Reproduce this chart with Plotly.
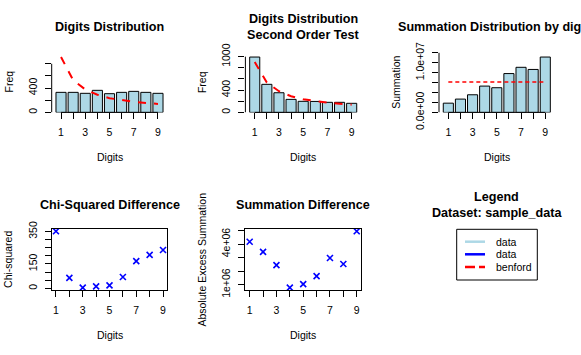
import plotly.graph_objects as go

W, H = 581, 355

# ---------------- data ----------------
digits = [1, 2, 3, 4, 5, 6, 7, 8, 9]
digit_ticktext = ["1", "", "3", "", "5", "", "7", "", "9"]

freq_data = [330, 330, 314, 363, 308, 330, 346, 330, 314]
freq_benford = [911, 530, 378, 290, 234, 200, 175, 155, 140]

sot_data = [994, 504, 353, 234, 199, 197, 181, 181, 163]
sot_benford = [905, 535, 380, 290, 235, 200, 175, 155, 138]

sum_data = [1.86e6, 2.68e6, 3.55e6, 5.30e6, 4.97e6, 7.82e6, 9.08e6, 8.65e6, 11.15e6]
sum_expected = 6.12e6

chi_squared = [352, 64, 4, 12, 18, 70, 168, 206, 236]
abs_excess = [4.17e6, 3.43e6, 2.45e6, 0.78e6, 1.04e6, 1.63e6, 2.97e6, 2.53e6, 4.95e6]

freq_yticks = [0, 200, 400, 600, 800]
freq_yticktext = ["0", "", "400", "", ""]
sot_yticks = [0, 200, 400, 600, 800, 1000]
sot_yticktext = ["0", "", "400", "", "", "1000"]
sum_yticks = [0, 2e6, 4e6, 6e6, 8e6, 1e7, 1.2e7]
sum_yticktext = ["0.0e+00", "", "", "", "", "1.0e+07", ""]
chi_yticks = [0, 50, 100, 150, 200, 250, 300, 350]
chi_yticktext = ["0", "", "", "150", "", "", "", "350"]
exc_yticks = [1e6, 2e6, 3e6, 4e6, 5e6]
exc_yticktext = ["1e+06", "", "", "4e+06", ""]

titles = [["Digits Distribution"],
          ["Digits Distribution", "Second Order Test"],
          ["Summation Distribution by digits"],
          ["Chi-Squared Difference"],
          ["Summation Difference"],
          ["Legend", "Dataset: sample_data"]]
xlabels = ["Digits", "Digits", "Digits", "Digits", "Digits"]
ylabels = ["Freq", "Freq", "Summation", "Chi-squared", "Absolute Excess Summation"]

legend_labels = ["data", "data", "benford"]
legend_colors = ["lightblue", "blue", "red"]
legend_dash = ["solid", "solid", "dash"]

# ---------------- layout geometry (pixels) ----------------
FONT = "Liberation Sans, Arial, sans-serif"
col_px = [(51.7, 167.3), (245.4, 361.0), (439.0, 554.6)]
row_px = [(51.5, 112.4), (229.0, 289.9)]
cells = [(0, 0), (0, 1), (0, 2), (1, 0), (1, 1), (1, 2)]


def px_x(x):
    return x / W


def px_y(y):
    return 1 - y / H


fig = go.Figure()

BAR_FRAC = 1 / 1.2  # R barplot: width 1, space 0.2


def bar_xrange():
    lo, hi = digits[0] - BAR_FRAC / 2, digits[-1] + BAR_FRAC / 2
    pad = 0.04 * (hi - lo)
    return [lo - pad, hi + pad]


def pt_range(vals):
    lo, hi = min(vals), max(vals)
    pad = 0.04 * (hi - lo)
    return [lo - pad, hi + pad]


panels = [
    dict(kind="bar", y=freq_data, ref=freq_benford, lw=2, dash="8px,8px",
         yt=freq_yticks, ytt=freq_yticktext),
    dict(kind="bar", y=sot_data, ref=sot_benford, lw=2, dash="8px,8px",
         yt=sot_yticks, ytt=sot_yticktext),
    dict(kind="bar", y=sum_data, ref=[sum_expected] * len(digits), lw=1.6, dash="4px,3px",
         yt=sum_yticks, ytt=sum_yticktext),
    dict(kind="pts", y=chi_squared, yt=chi_yticks, ytt=chi_yticktext),
    dict(kind="pts", y=abs_excess, yt=exc_yticks, ytt=exc_yticktext),
]

shapes = []
annotations = []
axis_font = dict(family=FONT, size=10.5, color="black")

for i, p in enumerate(panels):
    n = "" if i == 0 else str(i + 1)
    r, c = cells[i]
    x0, x1 = col_px[c]
    y0, y1 = row_px[r]
    xa = dict(domain=[px_x(x0), px_x(x1)], anchor="y" + n, automargin=False,
              tickmode="array", tickvals=digits, ticktext=digit_ticktext,
              ticks="outside", ticklen=6, tickwidth=1, tickcolor="black",
              tickfont=axis_font, showgrid=False, zeroline=False,
              ticklabelstandoff=4)
    ya = dict(domain=[px_y(y1), px_y(y0)], anchor="x" + n, automargin=False,
              tickmode="array", tickvals=p["yt"], ticktext=p["ytt"],
              ticks="outside", ticklen=6, tickwidth=1, tickcolor="black",
              tickfont=axis_font, tickangle=-90, showgrid=False, zeroline=False,
              ticklabelstandoff=4)
    if p["kind"] == "bar":
        top = 1.1 * max(max(p["y"]), max(p["ref"]))
        xa.update(range=bar_xrange(), showline=False)
        ya.update(range=[0, top], showline=False)
        fig.add_trace(go.Bar(x=digits, y=p["y"], xaxis="x" + n, yaxis="y" + n,
                             marker=dict(color="lightblue", line=dict(color="black", width=1)),
                             showlegend=False))
        fig.add_trace(go.Scatter(x=digits, y=p["ref"], xaxis="x" + n, yaxis="y" + n,
                                 mode="lines", line=dict(color="red", width=p["lw"], dash=p["dash"]),
                                 showlegend=False))
        shapes.append(dict(type="line", xref="x" + n + " domain", yref="y" + n,
                           x0=0, x1=0, y0=p["yt"][0], y1=p["yt"][-1],
                           line=dict(color="black", width=1)))
        shapes.append(dict(type="line", xref="x" + n, yref="y" + n + " domain",
                           x0=digits[0], x1=digits[-1], y0=0, y1=0,
                           line=dict(color="black", width=1)))
    else:
        xa.update(range=pt_range(digits), showline=True, mirror=True, linecolor="black", linewidth=1)
        ya.update(range=pt_range(p["y"]), showline=True, mirror=True, linecolor="black", linewidth=1)
        fig.add_trace(go.Scatter(x=digits, y=p["y"], xaxis="x" + n, yaxis="y" + n,
                                 mode="markers",
                                 marker=dict(symbol="x-thin", size=6, color="blue",
                                             line=dict(color="blue", width=1.6)),
                                 showlegend=False))
    fig.update_layout(**{"xaxis" + n: xa, "yaxis" + n: ya})

    cx = (x0 + x1) / 2
    cy = (y0 + y1) / 2
    annotations.append(dict(text=xlabels[i], x=px_x(cx), y=px_y(157 + 177.5 * r),
                            xref="paper", yref="paper", showarrow=False,
                            xanchor="center", yanchor="middle",
                            font=dict(family=FONT, size=10.5, color="black")))
    annotations.append(dict(text=ylabels[i], x=px_x(8.5 + 193.67 * c), y=px_y(cy),
                            xref="paper", yref="paper", showarrow=False, textangle=-90,
                            xanchor="center", yanchor="middle",
                            font=dict(family=FONT, size=10.5, color="black")))

for i, lines in enumerate(titles):
    r, c = cells[i]
    x0, x1 = col_px[c]
    cx = (x0 + x1) / 2
    ys = [27.3] if len(lines) == 1 else [19.3, 35.0]
    for t, yy in zip(lines, ys):
        annotations.append(dict(text="<b>" + t + "</b>", x=px_x(cx), y=px_y(yy + 177.5 * r),
                                xref="paper", yref="paper", showarrow=False,
                                xanchor="center", yanchor="middle",
                                font=dict(family=FONT, size=12.6, color="black")))

shapes.append(dict(type="rect", xref="paper", yref="paper",
                   x0=px_x(456.7), x1=px_x(537.3), y0=px_y(280.0), y1=px_y(229.3),
                   line=dict(color="black", width=1), fillcolor="white"))
leg_rows = [241.7, 254.3, 267.0]
for lab, col, dsh, yy in zip(legend_labels, legend_colors, legend_dash, leg_rows):
    shapes.append(dict(type="line", xref="paper", yref="paper",
                       x0=px_x(465), x1=px_x(485), y0=px_y(yy), y1=px_y(yy),
                       line=dict(color=col, width=2.5, dash=("10px,4px" if dsh == "dash" else "solid"))))
    annotations.append(dict(text=lab, x=px_x(493.5), y=px_y(yy), xref="paper", yref="paper",
                            showarrow=False, xanchor="left", yanchor="middle",
                            font=dict(family=FONT, size=10.5, color="black")))

fig.update_layout(width=W, height=H, margin=dict(l=0, r=0, t=0, b=0, autoexpand=False),
                  paper_bgcolor="white", plot_bgcolor="white",
                  bargap=1 - BAR_FRAC, showlegend=False,
                  shapes=shapes, annotations=annotations,
                  font=dict(family=FONT, color="black"))

fig.write_html("out.html", config={"displayModeBar": False},
               post_script="document.body.style.margin='0';document.body.style.overflow='hidden';")
